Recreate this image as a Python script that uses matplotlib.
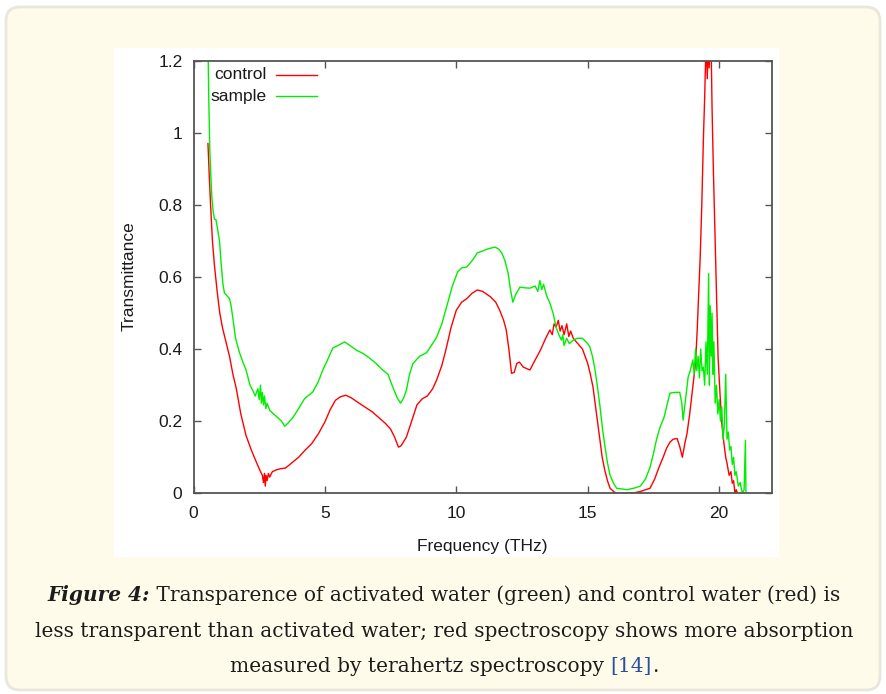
import numpy as np
import matplotlib
matplotlib.use("Agg")
import matplotlib.pyplot as plt
from matplotlib.patches import FancyBboxPatch, Rectangle
from matplotlib.transforms import IdentityTransform

W, H = 886, 694

# -------- data --------
control_f = [0.55, 0.60, 0.65, 0.72, 0.80, 0.90, 1.00, 1.10, 1.20, 1.37, 1.50, 1.63,
             1.80, 2.00, 2.20, 2.40, 2.55, 2.62, 2.66, 2.70, 2.73, 2.76, 2.80, 2.85,
             2.90, 3.00, 3.15, 3.30, 3.50, 3.75, 4.00, 4.25, 4.50, 4.75, 5.00, 5.20,
             5.40, 5.60, 5.80, 6.00, 6.30, 6.55, 6.80, 7.05, 7.30, 7.50, 7.65, 7.80,
             7.90, 8.10, 8.30, 8.50, 8.70, 8.90, 9.10, 9.25, 9.45, 9.60, 9.80, 10.00,
             10.20, 10.40, 10.60, 10.80, 11.00, 11.30, 11.50, 11.65, 11.80, 11.90, 12.00, 12.10,
             12.20, 12.30, 12.40, 12.55, 12.70, 12.80, 13.00, 13.20, 13.40, 13.56, 13.65, 13.72,
             13.80, 13.88, 13.95, 14.02, 14.10, 14.20, 14.28, 14.35, 14.45, 14.60, 14.80, 15.00,
             15.10, 15.20, 15.30, 15.45, 15.55, 15.65, 15.75, 15.85, 16.00, 16.10, 16.40, 16.80,
             17.00, 17.20, 17.37, 17.55, 17.70, 17.87, 18.00, 18.13, 18.25, 18.40, 18.50, 18.60,
             18.70, 18.78, 18.88, 18.97, 19.05, 19.10, 19.16, 19.22, 19.28, 19.34, 19.40, 19.45,
             19.50, 19.55, 19.58, 19.62, 19.66, 19.70, 19.73, 19.78, 19.85, 19.90, 19.96, 20.03,
             20.10, 20.18, 20.25, 20.30, 20.38, 20.45, 20.50, 20.55, 20.60, 20.65, 20.70]
control_t = [0.97, 0.88, 0.80, 0.70, 0.63, 0.56, 0.50, 0.46, 0.43, 0.38, 0.33, 0.29,
             0.22, 0.16, 0.12, 0.085, 0.06, 0.05, 0.03, 0.055, 0.02, 0.05, 0.035, 0.055,
             0.045, 0.06, 0.065, 0.068, 0.07, 0.085, 0.10, 0.12, 0.138, 0.165, 0.198, 0.232,
             0.258, 0.268, 0.272, 0.265, 0.25, 0.238, 0.226, 0.21, 0.194, 0.178, 0.156, 0.128,
             0.132, 0.156, 0.20, 0.245, 0.262, 0.27, 0.29, 0.314, 0.355, 0.397, 0.46, 0.508,
             0.53, 0.54, 0.555, 0.564, 0.56, 0.545, 0.53, 0.508, 0.48, 0.453, 0.40, 0.333,
             0.335, 0.36, 0.364, 0.35, 0.345, 0.342, 0.37, 0.397, 0.43, 0.453, 0.44, 0.47,
             0.461, 0.48, 0.45, 0.465, 0.44, 0.47, 0.435, 0.45, 0.43, 0.417, 0.40, 0.36,
             0.33, 0.295, 0.24, 0.156, 0.10, 0.064, 0.035, 0.014, 0.004, 0.0, 0.0, 0.002,
             0.005, 0.01, 0.014, 0.04, 0.07, 0.10, 0.125, 0.142, 0.15, 0.152, 0.13, 0.10,
             0.14, 0.167, 0.22, 0.278, 0.33, 0.36, 0.444, 0.55, 0.656, 0.80, 0.98, 1.10,
             1.25, 1.15, 1.25, 1.18, 1.25, 1.22, 1.07, 0.90, 0.70, 0.55, 0.378, 0.28,
             0.194, 0.14, 0.10, 0.083, 0.05, 0.06, 0.028, 0.035, 0.0, 0.01, 0.0]

sample_f = [0.55, 0.58, 0.62, 0.66, 0.70, 0.75, 0.80, 0.85, 0.90, 0.99, 1.05, 1.12,
            1.18, 1.25, 1.37, 1.43, 1.49, 1.60, 1.75, 1.90, 2.00, 2.15, 2.25, 2.35,
            2.45, 2.50, 2.55, 2.58, 2.62, 2.66, 2.70, 2.75, 2.80, 2.90, 3.05, 3.20,
            3.35, 3.47, 3.60, 3.78, 4.00, 4.23, 4.54, 4.75, 4.92, 5.10, 5.30, 5.50,
            5.75, 5.95, 6.20, 6.45, 6.70, 6.95, 7.20, 7.40, 7.58, 7.75, 7.88, 8.00,
            8.10, 8.22, 8.35, 8.60, 8.87, 9.05, 9.25, 9.45, 9.63, 9.85, 10.05, 10.20,
            10.40, 10.60, 10.80, 11.00, 11.20, 11.47, 11.60, 11.73, 11.85, 11.97, 12.05, 12.15,
            12.25, 12.42, 12.60, 12.80, 13.00, 13.10, 13.18, 13.25, 13.32, 13.44, 13.55, 13.68,
            13.80, 13.90, 14.00, 14.05, 14.10, 14.20, 14.30, 14.45, 14.60, 14.80, 15.00, 15.08,
            15.18, 15.28, 15.38, 15.47, 15.56, 15.66, 15.75, 15.85, 16.00, 16.10, 16.50, 16.80,
            17.00, 17.20, 17.37, 17.50, 17.62, 17.75, 17.90, 18.13, 18.32, 18.50, 18.58, 18.63,
            18.72, 18.82, 18.90, 19.00, 19.05, 19.10, 19.15, 19.20, 19.25, 19.30, 19.35, 19.40,
            19.45, 19.50, 19.55, 19.60, 19.63, 19.66, 19.70, 19.73, 19.77, 19.80, 19.85, 19.90,
            19.95, 20.00, 20.05, 20.10, 20.15, 20.20, 20.25, 20.30, 20.35, 20.40, 20.45, 20.50,
            20.55, 20.60, 20.65, 20.73, 20.80, 20.88, 20.95, 21.00, 21.02]
sample_t = [1.25, 1.10, 0.95, 0.88, 0.82, 0.78, 0.76, 0.76, 0.74, 0.70, 0.64, 0.58,
            0.555, 0.55, 0.54, 0.52, 0.49, 0.43, 0.39, 0.36, 0.342, 0.30, 0.286, 0.27,
            0.29, 0.26, 0.30, 0.25, 0.28, 0.245, 0.27, 0.235, 0.25, 0.23, 0.22, 0.21,
            0.20, 0.186, 0.195, 0.21, 0.235, 0.263, 0.281, 0.31, 0.342, 0.37, 0.403, 0.41,
            0.42, 0.41, 0.397, 0.388, 0.375, 0.36, 0.342, 0.33, 0.295, 0.265, 0.25, 0.265,
            0.286, 0.33, 0.36, 0.38, 0.39, 0.41, 0.433, 0.47, 0.517, 0.575, 0.614, 0.625,
            0.628, 0.645, 0.667, 0.672, 0.678, 0.683, 0.678, 0.667, 0.645, 0.611, 0.57, 0.53,
            0.55, 0.572, 0.57, 0.569, 0.575, 0.56, 0.59, 0.565, 0.58, 0.547, 0.53, 0.50,
            0.46, 0.44, 0.425, 0.44, 0.41, 0.43, 0.415, 0.425, 0.43, 0.43, 0.415, 0.406,
            0.38, 0.342, 0.29, 0.239, 0.18, 0.128, 0.085, 0.05, 0.025, 0.014, 0.01, 0.015,
            0.02, 0.04, 0.072, 0.11, 0.15, 0.183, 0.21, 0.278, 0.28, 0.28, 0.25, 0.203,
            0.26, 0.322, 0.34, 0.37, 0.33, 0.40, 0.34, 0.38, 0.32, 0.40, 0.34, 0.35,
            0.30, 0.42, 0.33, 0.61, 0.30, 0.52, 0.38, 0.50, 0.33, 0.42, 0.25, 0.30,
            0.22, 0.26, 0.20, 0.24, 0.15, 0.19, 0.33, 0.15, 0.17, 0.12, 0.13, 0.08,
            0.10, 0.05, 0.06, 0.02, 0.03, 0.0, 0.01, 0.147, 0.0]

x_ticks = [0, 5, 10, 15, 20]
y_ticks = [0, 0.2, 0.4, 0.6, 0.8, 1, 1.2]
y_tick_labels = ["0", "0.2", "0.4", "0.6", "0.8", "1", "1.2"]

# -------- figure + page background --------
fig = plt.figure(figsize=(W / 100, H / 100), dpi=100, facecolor="white")

card = FancyBboxPatch((6, 4), W - 12, H - 11,
                      boxstyle="round,pad=0,rounding_size=14",
                      transform=IdentityTransform(), facecolor="#fffbea",
                      edgecolor="#e9e6dc", linewidth=2, zorder=-3)
fig.patches.append(card)

white_box = Rectangle((114, H - 557), 665, 509, transform=IdentityTransform(),
                      facecolor="white", edgecolor="none", zorder=-2)
fig.patches.append(white_box)

# axes box in pixels: left 193.5, right 771.7, top 60.7, bottom 493.3
ax = fig.add_axes([193.5 / W, (H - 493.3) / H, (771.7 - 193.5) / W, (493.3 - 60.7) / H])
ax.set_facecolor("white")

ax.plot(control_f, control_t, color="#ff0000", lw=1.0)
ax.plot(sample_f, sample_t, color="#00ee00", lw=1.0)

ax.set_xlim(0, 22)
ax.set_ylim(0, 1.2)
ax.set_xticks(x_ticks)
ax.set_yticks(y_ticks)
ax.set_yticklabels(y_tick_labels)

tick_font = "Liberation Sans"
for lab in ax.get_xticklabels() + ax.get_yticklabels():
    lab.set_fontfamily(tick_font)

ax.tick_params(direction="in", top=True, right=True, length=5, width=1,
               color="#555555", labelsize=12.5, labelcolor="#1a1a1a")
ax.tick_params(axis="x", pad=9)
ax.tick_params(axis="y", pad=8)
for sp in ax.spines.values():
    sp.set_color("#555555")
    sp.set_linewidth(1.3)

ax.set_xlabel("Frequency (THz)", fontsize=12.5, family=tick_font, color="#1a1a1a")
ax.set_ylabel("Transmittance", fontsize=12.5, family=tick_font, color="#1a1a1a")
ax.xaxis.set_label_coords(0.5, -0.105)
ax.yaxis.set_label_coords(-0.098, 0.503)

# -------- gnuplot style key --------
key_names = ["control", "sample"]
key_colors = ["#ff0000", "#00ee00"]
key_y = [0.967, 0.918]
for name, col, yy in zip(key_names, key_colors, key_y):
    ax.text(0.127, yy, name, transform=ax.transAxes, ha="right", va="center",
            fontsize=12.5, family=tick_font, color="#1a1a1a")
    ax.plot([0.143, 0.2136], [yy, yy], transform=ax.transAxes, color=col, lw=1.0)

# -------- caption --------
cap_font = "DejaVu Serif"
cap_size = 14.5
cap_color = "#1c1c1c"
caption = [
    [("Figure 4:", dict(weight="bold", style="italic", color=cap_color)),
     (" Transparence of activated water (green) and control water (red) is", dict(color=cap_color))],
    [("less transparent than activated water; red spectroscopy shows more absorption", dict(color=cap_color))],
    [("measured by terahertz spectroscopy ", dict(color=cap_color)),
     ("[14]", dict(color="#2b4fa2")),
     (".", dict(color=cap_color))],
]
baselines = [601, 637, 672]

fig.canvas.draw()
renderer = fig.canvas.get_renderer()
for segs, base in zip(caption, baselines):
    texts = []
    for s, kw in segs:
        t = fig.text(0, (H - base) / H, s, family=cap_font, fontsize=cap_size,
                     va="baseline", ha="left", **kw)
        texts.append(t)
    widths = [t.get_window_extent(renderer).width for t in texts]
    x = 444 - sum(widths) / 2
    for t, w in zip(texts, widths):
        t.set_x(x / W)
        x += w

fig.savefig("out.png", dpi=100, facecolor=fig.get_facecolor())
